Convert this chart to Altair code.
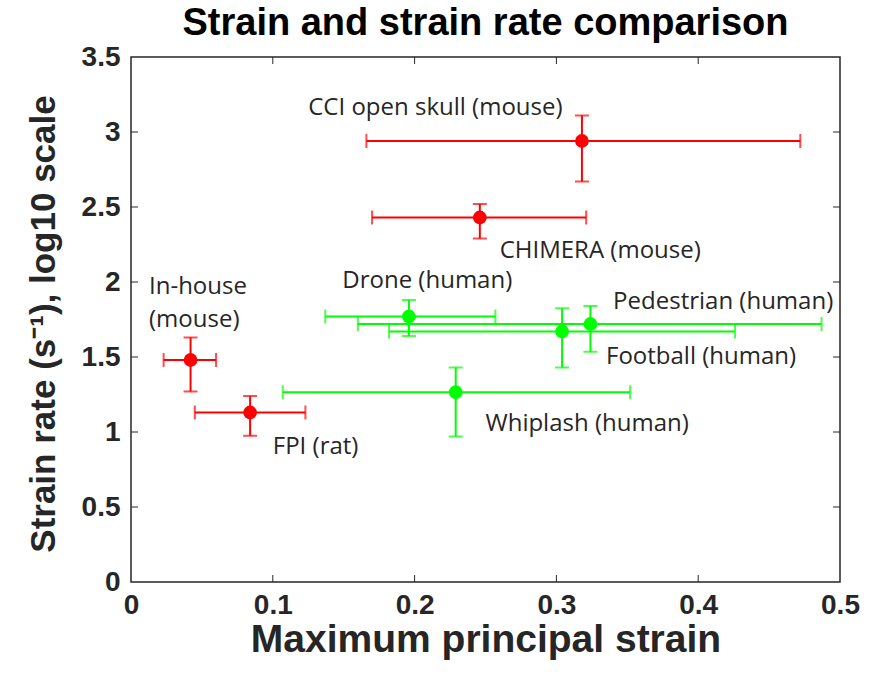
import altair as alt
import pandas as pd

# ---- data ----
names = ["CCI open skull (mouse)", "CHIMERA (mouse)", "In-house (mouse)", "FPI (rat)",
         "Drone (human)", "Pedestrian (human)", "Football (human)", "Whiplash (human)"]
groups = ["animal", "animal", "animal", "animal", "human", "human", "human", "human"]
strain = [0.318, 0.246, 0.042, 0.084, 0.196, 0.324, 0.304, 0.229]
strain_lo = [0.166, 0.170, 0.023, 0.045, 0.137, 0.160, 0.182, 0.107]
strain_hi = [0.472, 0.321, 0.060, 0.123, 0.257, 0.487, 0.426, 0.352]
rate = [2.94, 2.43, 1.48, 1.13, 1.77, 1.72, 1.67, 1.265]
rate_lo = [2.67, 2.29, 1.27, 0.975, 1.64, 1.535, 1.43, 0.97]
rate_hi = [3.11, 2.52, 1.63, 1.24, 1.88, 1.84, 1.825, 1.43]

label_text = ["CCI open skull (mouse)", "CHIMERA (mouse)", "Drone (human)", "In-house", "(mouse)",
              "Pedestrian (human)", "Football (human)", "Whiplash (human)", "FPI (rat)"]
label_x = [0.125, 0.260, 0.149, 0.0127, 0.0127, 0.340, 0.335, 0.250, 0.100]
label_y = [3.16, 2.21, 2.01, 1.97, 1.75, 1.87, 1.50, 1.053, 0.90]

x_ticks = [0, 0.1, 0.2, 0.3, 0.4, 0.5]
y_ticks = [0, 0.5, 1, 1.5, 2, 2.5, 3, 3.5]
inner_x_ticks = [0.1, 0.2, 0.3, 0.4]
inner_y_ticks = [0.5, 1, 1.5, 2, 2.5, 3]

df = pd.DataFrame({"name": names, "group": groups, "x": strain, "xlo": strain_lo,
                   "xhi": strain_hi, "y": rate, "ylo": rate_lo, "yhi": rate_hi})
labels = pd.DataFrame({"text": label_text, "x": label_x, "y": label_y})
xt = pd.DataFrame({"v": inner_x_ticks})
yt = pd.DataFrame({"v": inner_y_ticks})

W, H = 709, 525
AX = "#262626"
FONT = "Liberation Sans"

xscale = alt.Scale(domain=[0, 0.5], nice=False, zero=False)
yscale = alt.Scale(domain=[0, 3.5], nice=False, zero=False)
cscale = alt.Scale(domain=["animal", "human"], range=["#FF0000", "#00FF00"])

xaxis = alt.Axis(values=x_ticks, format="~g", grid=False, ticks=False, domain=False,
                 labelFlush=False, labelOverlap=False,
                 labelFont=FONT, labelFontWeight="bold", labelFontSize=28, labelColor=AX,
                 labelPadding=9, title="Maximum principal strain", titleFont=FONT,
                 titleFontWeight="bold", titleFontSize=39, titleColor=AX,
                 titleX=W / 2, titleY=57, titleBaseline="middle", titleAlign="center")
yaxis = alt.Axis(values=y_ticks, format="~g", grid=False, ticks=False, domain=False,
                 labelFlush=False, labelOverlap=False,
                 labelFont=FONT, labelFontWeight="bold", labelFontSize=28, labelColor=AX,
                 labelPadding=11, title="Strain rate (s\u207b\u00b9), log10 scale", titleFont=FONT,
                 titleFontWeight="bold", titleFontSize=35, titleColor=AX,
                 titleX=-88, titleY=H / 2 + 4, titleAngle=270, titleBaseline="middle",
                 titleAlign="center")

base = alt.Chart(df)
X = alt.X("x:Q", scale=xscale, axis=xaxis)
Y = alt.Y("y:Q", scale=yscale, axis=yaxis)
C = alt.Color("group:N", scale=cscale, legend=None)

hbar = base.mark_rule(strokeWidth=2).encode(x=alt.X("xlo:Q", scale=xscale, axis=xaxis), x2="xhi:Q", y=Y, color=C)
vbar = base.mark_rule(strokeWidth=2).encode(x=X, y=alt.Y("ylo:Q", scale=yscale, axis=yaxis), y2="yhi:Q", color=C)
cap_l = base.mark_tick(orient="vertical", size=14, thickness=2).encode(x=alt.X("xlo:Q", scale=xscale), y=alt.Y("y:Q", scale=yscale), color=C)
cap_r = base.mark_tick(orient="vertical", size=14, thickness=2).encode(x=alt.X("xhi:Q", scale=xscale), y=alt.Y("y:Q", scale=yscale), color=C)
cap_b = base.mark_tick(orient="horizontal", size=14, thickness=2).encode(x=alt.X("x:Q", scale=xscale), y=alt.Y("ylo:Q", scale=yscale), color=C)
cap_t = base.mark_tick(orient="horizontal", size=14, thickness=2).encode(x=alt.X("x:Q", scale=xscale), y=alt.Y("yhi:Q", scale=yscale), color=C)
pts = base.mark_circle(size=190, opacity=1).encode(x=X, y=Y, color=C)

txt = alt.Chart(labels).mark_text(align="left", baseline="middle", font="Open Sans",
                                  fontSize=24, color="#262626").encode(
    x=alt.X("x:Q", scale=xscale), y=alt.Y("y:Q", scale=yscale), text="text:N")

tb = alt.Chart(xt).mark_rule(color=AX, strokeWidth=1).encode(
    x=alt.X("v:Q", scale=xscale), y=alt.value(H), y2=alt.value(H - 7))
tt = alt.Chart(xt).mark_rule(color=AX, strokeWidth=1).encode(
    x=alt.X("v:Q", scale=xscale), y=alt.value(0), y2=alt.value(7))
tl = alt.Chart(yt).mark_rule(color=AX, strokeWidth=1).encode(
    y=alt.Y("v:Q", scale=yscale), x=alt.value(0), x2=alt.value(7))
tr = alt.Chart(yt).mark_rule(color=AX, strokeWidth=1).encode(
    y=alt.Y("v:Q", scale=yscale), x=alt.value(W), x2=alt.value(W - 7))

chart = alt.layer(tb, tt, tl, tr, hbar, vbar, cap_l, cap_r, cap_b, cap_t, pts, txt).properties(
    width=W, height=H,
    title=alt.TitleParams("Strain and strain rate comparison", font=FONT, fontWeight="bold",
                          fontSize=38, color="#000000", anchor="middle", offset=0),
    autosize=alt.AutoSizeParams(type="none"),
    padding={"left": 131, "top": 57, "right": 31, "bottom": 107},
    background="white",
).configure_view(stroke="#262626", strokeWidth=1.5, strokeOpacity=1)

chart.save("out.html", embed_options={"renderer": "svg", "actions": False})
